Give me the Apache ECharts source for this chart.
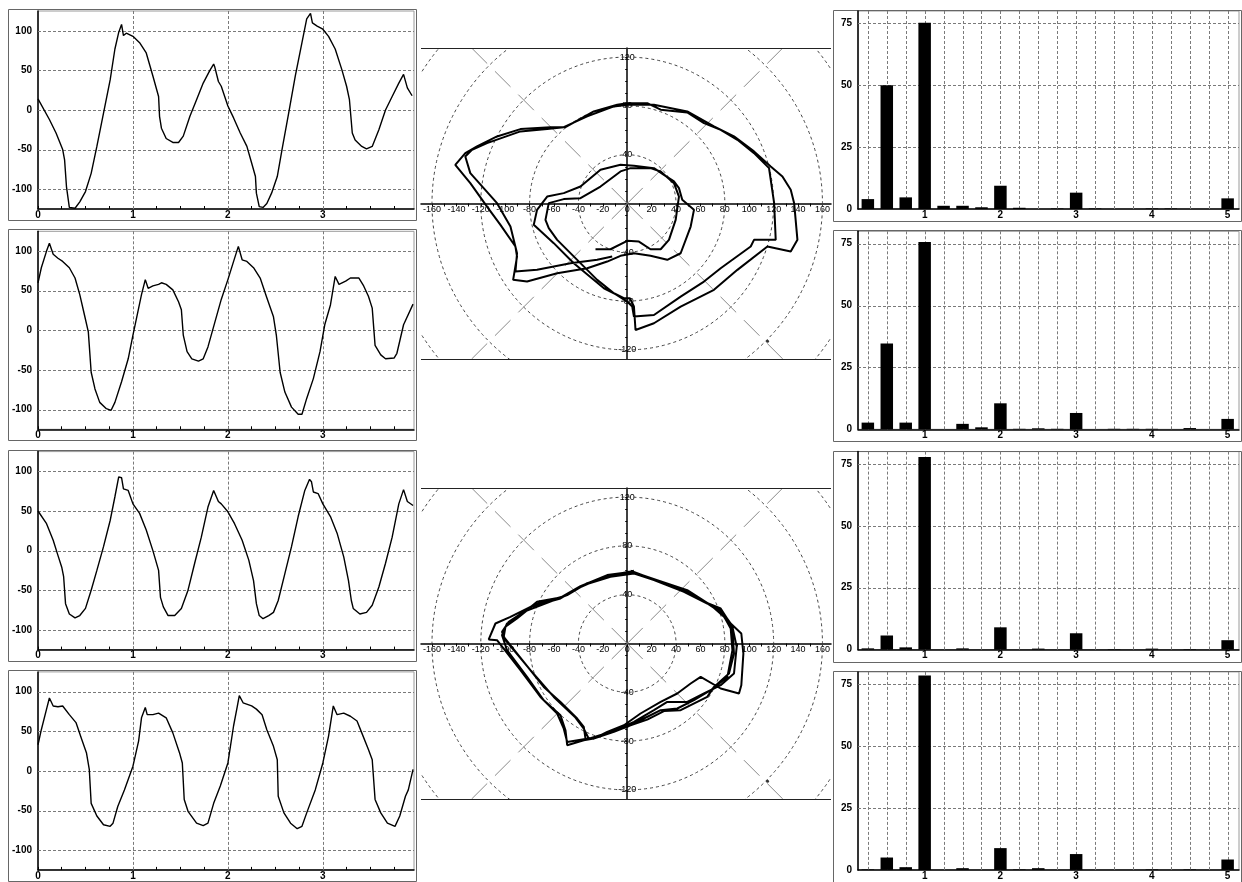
<!DOCTYPE html>
<html><head><meta charset="utf-8">
<script src="https://cdn.jsdelivr.net/npm/echarts@6/dist/echarts.min.js"></script>
<style>html,body{margin:0;padding:0;background:#fff}#c{width:1242px;height:882px}</style>
</head><body><div id="c"></div>
<script>
// ---------- time series (left column) ----------
const t1=[0,0.12,0.19,0.26,0.28,0.30,0.33,0.39,0.44,0.50,0.56,0.62,0.69,0.76,0.81,0.85,0.88,0.90,0.93,1.0,1.07,1.14,1.21,1.27,1.28,1.30,1.35,1.42,1.48,1.53,1.60,1.67,1.74,1.81,1.85,1.86,1.90,1.93,2.0,2.06,2.13,2.20,2.25,2.29,2.30,2.33,2.37,2.41,2.46,2.52,2.57,2.64,2.71,2.78,2.83,2.87,2.89,2.94,3.0,3.06,3.13,3.20,3.25,3.28,3.31,3.34,3.41,3.46,3.52,3.59,3.66,3.73,3.80,3.85,3.87,3.89,3.94];
const v1=[14,-12,-29,-50,-63,-97,-123,-124,-116,-103,-80,-46,-4,38,77,98,108,94,97,93,85,72,43,17,-8,-23,-36,-41,-41,-33,-8,13,34,50,58,55,36,30,5,-10,-29,-46,-67,-84,-105,-122,-123,-118,-105,-84,-50,-4,43,85,115,122,110,106,102,93,77,51,30,13,-29,-38,-46,-49,-46,-25,0,17,34,45,43,28,18];
const t2=[0,0.035,0.09,0.12,0.16,0.21,0.26,0.33,0.39,0.44,0.49,0.53,0.56,0.60,0.65,0.72,0.77,0.81,0.88,0.95,1.0,1.06,1.09,1.13,1.16,1.21,1.27,1.30,1.35,1.42,1.48,1.51,1.53,1.57,1.62,1.69,1.74,1.79,1.86,1.93,2.0,2.06,2.11,2.15,2.20,2.27,2.34,2.41,2.48,2.51,2.55,2.60,2.67,2.74,2.78,2.83,2.90,2.97,3.02,3.08,3.13,3.17,3.24,3.29,3.38,3.43,3.48,3.52,3.55,3.61,3.66,3.75,3.78,3.85,3.95];
const v2=[60,79,100,110,96,91,87,79,66,45,19,-2,-53,-74,-91,-99,-101,-91,-65,-36,-6,28,45,64,53,56,58,60,58,51,36,26,-6,-27,-36,-39,-36,-21,9,39,64,87,106,89,87,79,66,41,17,-6,-53,-78,-97,-106,-106,-86,-61,-27,7,32,68,58,62,66,66,56,43,28,-19,-31,-36,-35,-29,7,33];
const t3=[0,0.09,0.16,0.21,0.25,0.27,0.29,0.33,0.39,0.44,0.50,0.56,0.62,0.69,0.76,0.81,0.85,0.88,0.90,0.95,1.0,1.07,1.14,1.21,1.27,1.29,1.32,1.37,1.44,1.51,1.58,1.65,1.72,1.79,1.85,1.87,1.90,1.93,2.0,2.07,2.15,2.22,2.27,2.30,2.33,2.37,2.43,2.48,2.53,2.60,2.67,2.74,2.81,2.86,2.88,2.90,2.95,3.0,3.08,3.15,3.22,3.27,3.30,3.32,3.39,3.46,3.52,3.59,3.66,3.73,3.80,3.85,3.87,3.89,3.95];
const v3=[50,34,13,-6,-21,-33,-67,-80,-85,-82,-73,-50,-25,5,38,68,93,92,78,76,59,47,26,0,-25,-59,-71,-82,-82,-73,-50,-16,17,55,76,77,62,59,49,34,13,-12,-38,-67,-82,-86,-82,-78,-63,-29,5,43,76,90,87,74,72,59,43,22,-8,-38,-63,-73,-80,-78,-69,-46,-16,17,59,77,76,62,57];
const t4=[0,0.035,0.09,0.12,0.16,0.21,0.26,0.33,0.40,0.46,0.51,0.54,0.56,0.62,0.69,0.76,0.79,0.84,0.91,1.0,1.06,1.09,1.13,1.15,1.21,1.27,1.35,1.42,1.49,1.52,1.54,1.58,1.67,1.74,1.79,1.85,1.92,2.0,2.06,2.10,2.12,2.16,2.25,2.30,2.36,2.41,2.48,2.52,2.53,2.59,2.66,2.73,2.78,2.83,2.92,3.0,3.06,3.11,3.15,3.22,3.29,3.36,3.41,3.48,3.52,3.55,3.61,3.68,3.76,3.81,3.87,3.90,3.95];
const v4=[33,52,78,92,82,81,82,71,61,40,23,2,-41,-57,-68,-70,-66,-45,-24,6,38,67,80,71,71,73,67,48,23,10,-36,-51,-66,-69,-66,-41,-19,10,57,82,95,86,82,78,71,52,31,14,-32,-53,-66,-73,-70,-53,-24,10,44,82,71,73,69,63,48,27,14,-36,-53,-66,-70,-57,-32,-24,2];

// ---------- orbits (middle column) ----------
const ox1=[-26.0,-13.7,0,9.6,19.1,27.4,34.2,39.7,42.4,38.3,27.4,19.1,2.7,-5.5,-21.9,-38.3,-52.0,-64.3,-67.0,-64.3,
 -57.4,-41.0,-24.6,-10.9,0,4.1,5.5,
 21.9,43.8,62.9,76.6,101.2,103.9,121.7,120.4,116.2,103.9,90.3,76.6,62.9,49.2,27.4,16.4,0,-8.2,-27.4,-50.6,-62.9,-87.5,-106.7,-123.1,-132.7,-140.9,
 -128.6,-114.9,-103.9,-91.6,-90.3,-93.5,-82.1,-57.4,-32.8,-16.4,
 -5.5,5.5,19.1,32.8,43.8,52.0,54.7,45.1,42.4,38.3,30.1,21.9,5.5,-5.5,-21.9,-38.3,-52.0,-65.6,-73.9,-76.6,
 -60.2,-43.8,-19.1,-2.7,2.2,5.5,6.8,
 21.9,43.8,71.1,90.3,114.9,134.0,139.5,136.8,134.0,127.2,117.6,103.9,87.5,71.1,49.2,21.9,0,-10.9,-32.8,-52.0,-65.6,-87.5,-114.9,-127.2,-132.7,-128.6,-106.7,-95.7,-90.3,-91.6,-73.9,-46.5,-24.6,-12.3];
const oy1=[-37.5,-37.5,-30.6,-31.2,-37.5,-37.5,-29.8,-13.4,5.7,16.7,26.3,29.0,29.0,26.3,13.9,4.4,3.6,0.3,-13.4,-20.2,
 -29.8,-46.2,-62.6,-73.6,-80.4,-84.5,-92.7,
 -91.4,-76.3,-64.0,-53.1,-35.3,-29.8,-29.8,0.3,29.0,41.3,52.2,60.4,65.9,74.7,76.9,82.3,82.3,81.0,75.5,62.6,62.6,61.0,55.0,46.8,41.3,31.7,
 16.7,-2.5,-17.5,-35.3,-43.5,-62.6,-64.0,-57.2,-53.1,-47.6,
 -42.9,-40.8,-42.9,-46.2,-40.8,-18.9,-5.2,3.0,12.6,18.1,23.5,29.0,30.9,31.7,27.6,13.9,8.5,5.7,-5.2,-17.5,
 -32.5,-49.0,-69.5,-77.7,-77.7,-84.5,-103.7,
 -98.2,-84.5,-70.8,-54.4,-35.3,-39.4,-29.8,0.3,11.2,22.2,30.4,42.7,55.0,63.2,75.5,81.0,81.0,79.6,71.4,62.6,61.0,59.1,49.5,44.0,38.6,24.9,0.3,-18.9,-40.8,-55.8,-54.4,-49.0,-46.2,-43.5];
const ox2=[2.7,21.9,46.5,65.6,78.0,84.8,93.5,95.2,93.5,91.6,76.6,60.2,52.0,41.0,27.4,10.9,-2.7,-16.4,-27.4,-35.6,-49.2,-50.6,-54.7,-68.4,-82.1,-98.5,-102.6,-98.5,-87.5,-73.9,-54.7,-38.3,-16.4,4.1,
 24.6,49.2,68.4,79.3,86.2,87.5,83.4,71.1,65.6,43.8,30.1,16.4,2.7,-10.9,-27.4,-34.2,-35.6,-41.0,-54.7,-68.4,-84.8,-101.2,-99.8,-90.3,-76.6,-52.0,-35.6,-13.7,5.5,
 27.4,46.5,62.9,76.6,86.2,89.7,87.5,76.6,62.9,49.2,32.8,21.9,5.5,-8.2,-24.6,-49.2,-52.0,-57.4,-71.1,-87.5,-106.7,-113.5,-108.0,-95.7,-79.3,-54.7,-41.0,-19.1,1.4,
 21.9,46.5,65.6,78.0,84.8,86.2,82.1,68.4,54.7,41.0,27.4,13.7,0,-16.4,-31.5,-35.6,-42.4,-60.2,-79.3,-99.8,-102.6,-97.1,-84.8,-65.6,-49.2,-32.8,-10.9,5.5];
const oy2=[59.6,52.5,43.8,33.4,26.0,16.4,8.2,-8.2,-34.2,-41.0,-36.9,-27.4,-32.8,-41.0,-47.9,-57.4,-67.0,-72.5,-78.0,-79.3,-83.4,-71.1,-58.8,-46.5,-27.4,-5.5,6.8,16.4,23.2,34.2,37.7,47.0,56.1,58.8,
 52.0,43.8,31.5,21.9,10.9,-8.2,-24.6,-35.6,-43.8,-54.7,-55.4,-62.4,-67.0,-72.5,-78.0,-78.0,-68.4,-61.5,-47.9,-35.6,-15.0,5.5,13.7,20.5,31.5,38.8,47.9,54.7,57.4,
 50.6,42.4,34.2,28.7,13.7,-2.7,-24.6,-34.2,-41.0,-47.9,-47.9,-54.7,-64.3,-70.5,-76.6,-80.8,-69.8,-57.4,-43.8,-21.9,2.7,3.3,16.4,21.9,30.1,36.9,45.1,54.7,58.8,
 52.0,42.4,32.8,24.6,12.3,-5.5,-27.4,-38.3,-46.5,-53.3,-54.7,-61.5,-68.4,-73.3,-78.0,-69.8,-60.7,-43.8,-21.9,2.7,9.6,17.8,25.9,33.4,39.7,49.5,56.4,59.6];
const markerPoint=[115,-113];

// ---------- spectra (right column) ----------
const orders=[0.25,0.5,0.75,1,1.25,1.5,1.75,2,2.25,2.5,2.75,3,3.25,3.5,3.75,4,4.25,4.5,4.75,5];
const b1=[4,50,4.7,75.3,1.3,1.3,0.7,9.4,0.5,0,0.2,6.6,0.2,0,0,0.2,0.2,0,0,4.3];
const b2=[2.7,34.7,2.7,75.7,0,2.2,0.8,10.5,0.2,0.4,0.2,6.6,0,0.2,0.2,0.2,0,0.5,0,4.2];
const b3=[0.5,5.7,0.9,77.8,0,0.5,0,9.0,0,0.4,0,6.6,0,0.2,0,0.4,0,0.2,0,3.8];
const b4=[0.2,5.0,1.1,78.5,0,0.7,0,8.8,0.2,0.7,0,6.4,0,0,0,0.2,0,0.2,0,4.2];

// ---------- tick labels ----------
const lineXLabels=[0,1,2,3];
const lineXTicks=[0,0.25,0.5,0.75,1,1.25,1.5,1.75,2,2.25,2.5,2.75,3,3.25,3.5,3.75];
const lineYLabels=[-100,-50,0,50,100];
const barXLabels=[1,2,3,4,5];
const barYLabels=[0,25,50,75];
const polarXLabels=[-160,-140,-120,-100,-80,-60,-40,-20,0,20,40,60,80,100,120,140,160];
const polarTicks=[-160,-150,-140,-130,-120,-110,-100,-90,-80,-70,-60,-50,-40,-30,-20,-10,0,10,20,30,40,50,60,70,80,90,100,110,120,130,140,150,160];
const polarYLabels=[-120,-80,-40,40,80,120];
const polarRings=[40,80,120,160,200,240];

const FONT='"Liberation Sans", Arial, sans-serif';
const ROW=220.3;
const zip=(a,b)=>a.map((x,i)=>[x,b[i]]);

const grids=[],xAxes=[],yAxes=[],series=[],graphics=[];

function gridLines(idx, vLines, hLines, xMid){
  const data=vLines.map(v=>[v,0,0]).concat(hLines.map(h=>[xMid,h,1]));
  return {type:'custom',xAxisIndex:idx,yAxisIndex:idx,silent:true,z:1,data,
    renderItem(params,api){
      const cs=params.coordSys;
      const p=api.coord([api.value(0),api.value(1)]);
      const vert=api.value(2)===0;
      const shape=vert?{x1:Math.round(p[0])+0.5,y1:cs.y,x2:Math.round(p[0])+0.5,y2:cs.y+cs.height}
                      :{x1:cs.x,y1:Math.round(p[1])+0.5,x2:cs.x+cs.width,y2:Math.round(p[1])+0.5};
      return {type:'line',shape,style:{stroke:'#7a7a7a',lineWidth:1,lineDash:[3,2]}};
    }};
}

// left column
const tsT=[t1,t2,t3,t4], tsV=[v1,v2,v3,v4];
for(let k=0;k<4;k++){
  const idx=grids.length;
  grids.push({left:38,top:11+ROW*k,width:376,height:198,show:true,borderColor:'#9a9a9a',borderWidth:1,backgroundColor:'transparent'});
  xAxes.push({gridIndex:idx,type:'value',min:0,max:3.96,
    axisLine:{onZero:false,lineStyle:{color:'#000',width:1.5}},
    axisTick:{show:true,customValues:lineXTicks,inside:true,length:3,lineStyle:{color:'#000'}},
    axisLabel:{customValues:lineXLabels,color:'#000',fontSize:10,fontWeight:'bold',fontFamily:FONT,margin:1},
    splitLine:{show:false}});
  yAxes.push({gridIndex:idx,type:'value',min:-125,max:125,
    axisLine:{onZero:false,lineStyle:{color:'#000',width:1.5}},
    axisTick:{show:false},
    axisLabel:{customValues:lineYLabels,color:'#000',fontSize:10,fontWeight:'bold',fontFamily:FONT,margin:6},
    splitLine:{show:false}});
  series.push(gridLines(idx,[1,2,3],lineYLabels,1));
  series.push({type:'line',xAxisIndex:idx,yAxisIndex:idx,data:zip(tsT[k],tsV[k]),showSymbol:false,z:3,
    lineStyle:{color:'#000',width:1.4},itemStyle:{color:'#000'}});
  graphics.push({type:'rect',silent:true,shape:{x:8.5,y:Math.round(9+ROW*k)+0.5,width:408,height:211},style:{fill:'none',stroke:'#666',lineWidth:1}});
}

// middle column
const orbX=[ox1,ox2], orbY=[oy1,oy2], polarTop=[48,488];
const PX=[-169,167], PY=[-127.5,127.5], PW=410, PH=311;
for(let p=0;p<2;p++){
  const idx=grids.length;
  grids.push({left:421,top:polarTop[p],width:PW,height:PH,show:false});
  // place axes through the origin
  const xOff=-PH*(0-PY[0])/(PY[1]-PY[0]);
  const yOff=-PW*(0-PX[0])/(PX[1]-PX[0]);
  xAxes.push({gridIndex:idx,type:'value',min:PX[0],max:PX[1],position:'bottom',offset:xOff,
    axisLine:{onZero:false,lineStyle:{color:'#000',width:1.5}},
    axisTick:{show:true,customValues:polarTicks,length:3,lineStyle:{color:'#000'}},
    axisLabel:{customValues:polarXLabels,color:'#000',fontSize:9,fontFamily:FONT,margin:2},
    splitLine:{show:false}});
  yAxes.push({gridIndex:idx,type:'value',min:PY[0],max:PY[1],position:'left',offset:yOff,
    axisLine:{onZero:false,lineStyle:{color:'#000',width:1.5}},
    axisTick:{show:true,customValues:polarTicks,length:2,lineStyle:{color:'#000'}},
    axisLabel:{customValues:polarYLabels,color:'#000',fontSize:9,fontFamily:FONT,margin:0,align:'center'},
    splitLine:{show:false}});
  series.push({type:'custom',xAxisIndex:idx,yAxisIndex:idx,silent:true,z:1,data:[[0,0]],
    renderItem(params,api){
      const cs=params.coordSys;
      const c=api.coord([0,0]);
      const inner=[];
      polarRings.forEach(r=>{
        const rr=api.size([r,0])[0];
        inner.push({type:'circle',shape:{cx:c[0],cy:c[1],r:rr},style:{fill:'none',stroke:'#444',lineWidth:1,lineDash:[3,3]}});
      });
      [[400,400],[-400,400],[-400,-400],[400,-400]].forEach(q=>{
        const e=api.coord(q);
        inner.push({type:'line',shape:{x1:c[0],y1:c[1],x2:e[0],y2:e[1]},style:{stroke:'#8a8a8a',lineWidth:1,lineDash:[22,11]}});
      });
      const yt=Math.round(cs.y)+0.5, yb=Math.round(cs.y+cs.height)+0.5;
      return {type:'group',children:[
        {type:'group',children:inner,clipPath:{type:'rect',shape:{x:cs.x,y:cs.y,width:cs.width,height:cs.height}}},
        {type:'line',shape:{x1:cs.x,y1:yt,x2:cs.x+cs.width,y2:yt},style:{stroke:'#222',lineWidth:1}},
        {type:'line',shape:{x1:cs.x,y1:yb,x2:cs.x+cs.width,y2:yb},style:{stroke:'#222',lineWidth:1}}
      ]};
    }});
  series.push({type:'line',xAxisIndex:idx,yAxisIndex:idx,data:zip(orbX[p],orbY[p]),showSymbol:false,z:3,
    lineStyle:{color:'#000',width:2},itemStyle:{color:'#000'}});
  series.push({type:'scatter',xAxisIndex:idx,yAxisIndex:idx,data:[markerPoint],symbolSize:3,z:3,itemStyle:{color:'#000'}});
}

// right column
const bars=[b1,b2,b3,b4];
for(let k=0;k<4;k++){
  const idx=grids.length;
  grids.push({left:858,top:11+ROW*k,width:381,height:198,show:true,borderColor:'#9a9a9a',borderWidth:1});
  xAxes.push({gridIndex:idx,type:'value',min:0.12,max:5.15,
    axisLine:{onZero:false,lineStyle:{color:'#000',width:1.5}},
    axisTick:{show:false},
    axisLabel:{customValues:barXLabels,color:'#000',fontSize:10,fontWeight:'bold',fontFamily:FONT,margin:1},
    splitLine:{show:false}});
  yAxes.push({gridIndex:idx,type:'value',min:0,max:80,
    axisLine:{onZero:false,lineStyle:{color:'#000',width:1.5}},
    axisTick:{show:false},
    axisLabel:{customValues:barYLabels,color:'#000',fontSize:10,fontWeight:'bold',fontFamily:FONT,margin:6},
    splitLine:{show:false}});
  series.push(gridLines(idx,orders,[25,50,75],1));
  series.push({type:'bar',xAxisIndex:idx,yAxisIndex:idx,data:zip(orders,bars[k]),barWidth:12.5,z:3,
    itemStyle:{color:'#000'}});
  graphics.push({type:'rect',silent:true,shape:{x:833.5,y:Math.round(10+ROW*k)+0.5,width:408,height:211},style:{fill:'none',stroke:'#666',lineWidth:1}});
}

const chart=echarts.init(document.getElementById('c'),null,{renderer:'canvas'});
chart.setOption({animation:false,backgroundColor:'#fff',grid:grids,xAxis:xAxes,yAxis:yAxes,series,graphic:graphics});
</script></body></html>
